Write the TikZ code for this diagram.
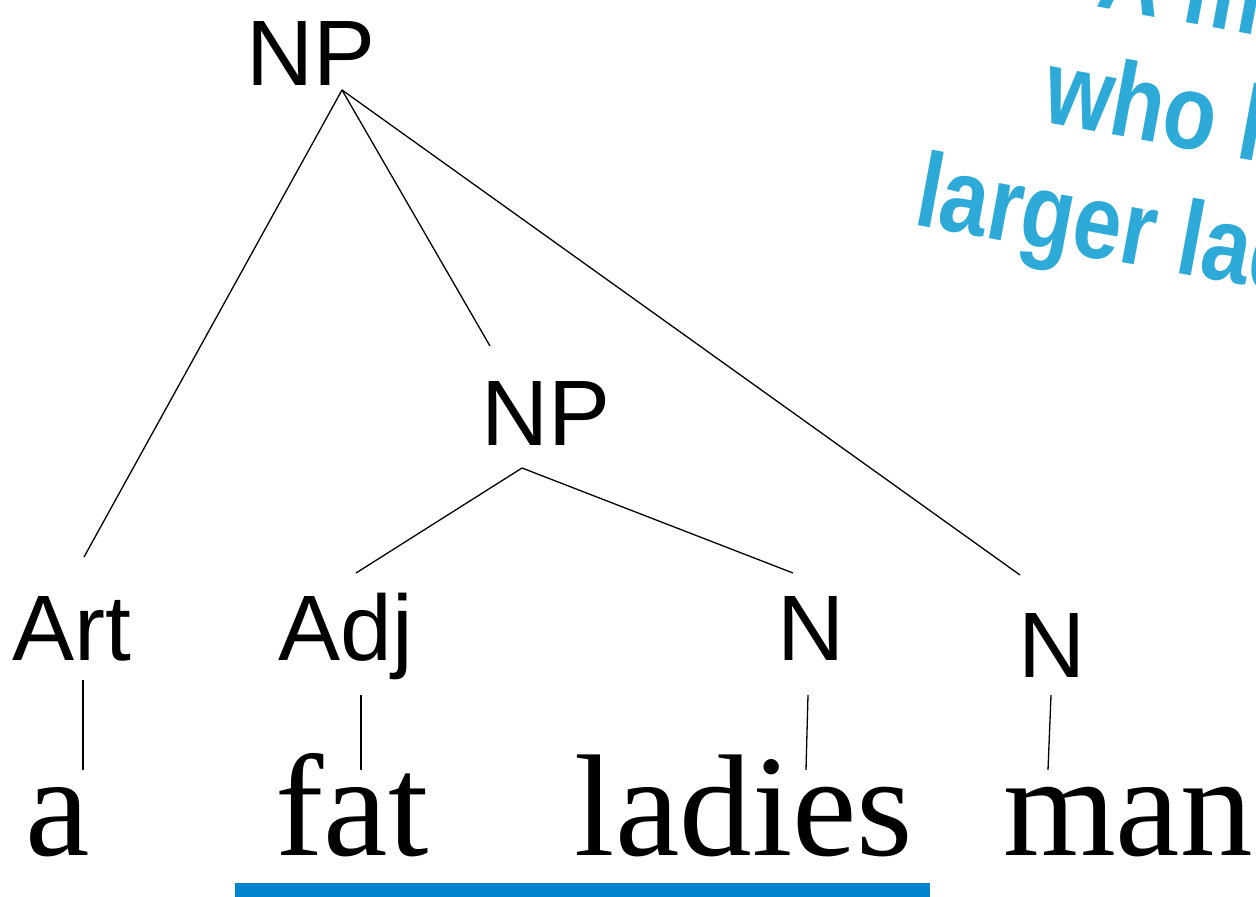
\documentclass[tikz,border=0pt]{standalone}
\usepackage{fontspec}
\setmainfont{Liberation Serif}
\newfontfamily\lsans{Liberation Sans}
\definecolor{ulblue}{RGB}{0,132,207}
\definecolor{wablue}{RGB}{45,170,215}
\newcommand{\wanarrow}[1]{\scalebox{0.82}[1]{#1}}
\begin{document}
\begin{tikzpicture}[x=1pt,y=-1pt,
  cat/.style={inner sep=0pt,anchor=base,font=\lsans\fontsize{93}{93}\selectfont},
  word/.style={inner sep=0pt,anchor=base,font=\fontsize{145}{145}\selectfont},
  wa/.style={inner sep=0pt,anchor=base west,rotate=-10.5,text=wablue,font=\lsans\bfseries\fontsize{106}{106}\selectfont},
  branch/.style={line width=1.3pt}]
\useasboundingbox (0,0) rectangle (1256,897);
\begin{scope}
\clip (0,0) rectangle (1256,897);
\node[wa] (wa1) at (1095,6) {\wanarrow{A man}};
\node[wa] (wa2) at (1040,121) {\wanarrow{who likes}};
\node[wa] (wa3) at (912,224) {\wanarrow{larger ladies}};
\end{scope}
% categories
\node[cat] (np1) at (311,85) {NP};
\node[cat] (np2) at (546,445) {NP};
\node[cat] (art) at (72,660) {Art};
\node[cat] (adj) at (346,660) {Adj};
\node[cat] (n1) at (811,660) {N};
\node[cat] (n2) at (1052,677) {N};
% words
\node[word] (wa) at (58,855) {a};
\node[word] (wfat) at (352,855) {fat};
\node[word] (wladies) at (744,855) {ladies};
\node[word] (wman) at (1128,855) {man};
% branch points
\coordinate (np1b) at (342,90);
\coordinate (np2t) at (490,346);
\coordinate (np2b) at (522,468);
\coordinate (artt) at (84,557);
\coordinate (adjt) at (356,573);
\coordinate (n1t) at (793,573);
\coordinate (n2t) at (1020,575);
\coordinate (artb) at (83,680);
\coordinate (wat) at (83,770);
\coordinate (adjb) at (361,695);
\coordinate (fatt) at (361,770);
\coordinate (n1b) at (808,695);
\coordinate (ladiest) at (806,770);
\coordinate (n2b) at (1051,695);
\coordinate (mant) at (1048,770);
\draw[branch] (np1b) -- (artt);
\draw[branch] (np1b) -- (np2t);
\draw[branch] (np1b) -- (n2t);
\draw[branch] (np2b) -- (adjt);
\draw[branch] (np2b) -- (n1t);
\draw[branch] (artb) -- (wat);
\draw[branch] (adjb) -- (fatt);
\draw[branch] (n1b) -- (ladiest);
\draw[branch] (n2b) -- (mant);
% underline
\fill[ulblue] (235,883) rectangle (930,897);
\end{tikzpicture}
\end{document}
